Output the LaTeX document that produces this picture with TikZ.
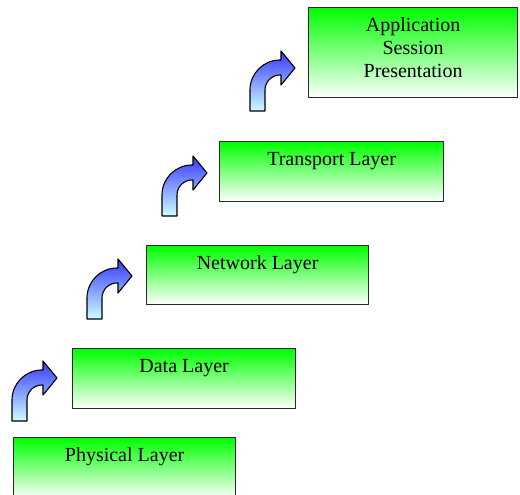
\documentclass[tikz,border=0pt]{standalone}
\usepackage{fontspec}
\setmainfont{Liberation Serif}
\definecolor{layergreen}{RGB}{0,255,0}
\definecolor{arrowblue}{RGB}{55,55,255}
\definecolor{arrowcyan}{RGB}{204,255,255}
\definecolor{edgegray}{RGB}{40,40,40}
\begin{document}
\begin{tikzpicture}[x=1pt,y=1pt,
  layerbox/.style={draw=edgegray, line width=1.2pt, top color=layergreen,
    bottom color=white, minimum height=60pt, inner sep=0pt, anchor=north west},
  layertext/.style={font=\fontsize{20}{23}\selectfont, anchor=base,
    align=center, inner sep=0pt},
  bendarrow/.style={draw=black, line width=1.1pt, line join=round,
    top color=arrowblue, bottom color=arrowcyan},
  pics/upturn/.style={code={
    \path[bendarrow] (0,0) -- (15,0) -- (15,21)
      arc[start angle=180, end angle=90, radius=15] -- (31,36) -- (31,26)
      -- (45,43) -- (31,60) -- (31,51) -- (30,51)
      arc[start angle=90, end angle=180, radius=30] -- cycle;
  }}
]
\useasboundingbox (0,0) rectangle (520,495);
\clip (0,0) rectangle (520,495);

% the five layer boxes, bottom to top
\node[layerbox, minimum width=222pt, minimum height=61pt] (phys) at (13,58) {};
\node[layerbox, minimum width=223pt] (data) at (72,147) {};
\node[layerbox, minimum width=222pt, minimum height=59pt] (net) at (146,250) {};
\node[layerbox, minimum width=224pt] (trans) at (219,354) {};
\node[layerbox, minimum width=209pt, minimum height=90pt] (app) at (308,488) {};

% labels (a multi-line node sits on the baseline of its last line)
\node[layertext] (physT) at ([yshift=-25pt]phys.north) {Physical Layer};
\node[layertext] (dataT) at ([yshift=-25pt]data.north) {Data Layer};
\node[layertext] (netT) at ([yshift=-25pt]net.north) {Network Layer};
\node[layertext] (transT) at ([yshift=-25pt]trans.north) {Transport Layer};
\node[layertext] (appT) at ([yshift=-71pt]app.north) {Application\\Session\\Presentation};

% bent arrows stepping up between the layers
\pic at (12,74) {upturn};
\pic at (87,176) {upturn};
\pic at (162,279) {upturn};
\pic at (250,384) {upturn};
\end{tikzpicture}
\end{document}
